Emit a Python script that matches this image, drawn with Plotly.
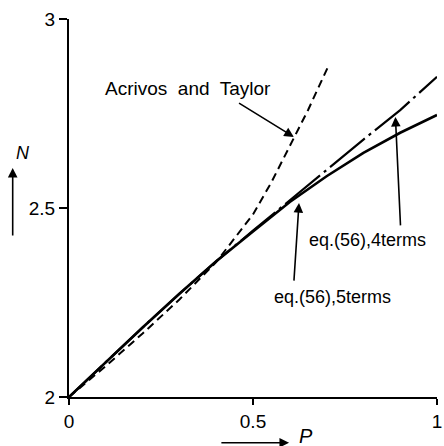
import plotly.graph_objects as go

# ---- data ----
P_5terms = [0.0, 0.1, 0.2, 0.3, 0.4, 0.5, 0.6, 0.7, 0.8, 0.9, 1.0]
N_5terms = [2.0, 2.092, 2.184, 2.273, 2.359, 2.438, 2.516, 2.584, 2.646, 2.699, 2.746]

P_4terms = [0.0, 0.1, 0.2, 0.3, 0.4, 0.5, 0.55, 0.6, 0.7, 0.8, 0.9, 1.0]
N_4terms = [2.0, 2.092, 2.184, 2.273, 2.359, 2.440, 2.480, 2.522, 2.601, 2.681, 2.759, 2.847]

P_acrivos = [0.0, 0.1, 0.2, 0.3, 0.4, 0.5, 0.55, 0.6, 0.65, 0.705]
N_acrivos = [2.0, 2.082, 2.168, 2.258, 2.357, 2.483, 2.568, 2.664, 2.760, 2.876]

x_tickvals = [0, 0.5, 1]
x_ticktext = ["0", "0.5", "1"]
y_tickvals = [2, 2.5, 3]
y_ticktext = ["2", "2.5", "3"]

FONT = "Liberation Sans"

fig = go.Figure()
fig.add_trace(go.Scatter(x=P_4terms, y=N_4terms, mode="lines",
                         line=dict(color="black", width=2.2, dash="45px,5px,3px,5px"),
                         showlegend=False))
fig.add_trace(go.Scatter(x=P_acrivos, y=N_acrivos, mode="lines",
                         line=dict(color="black", width=2, dash="8px,5px"),
                         showlegend=False))
fig.add_trace(go.Scatter(x=P_5terms, y=N_5terms, mode="lines",
                         line=dict(color="black", width=2.6),
                         showlegend=False))

txt = dict(family=FONT, size=18, color="black")
ann = []
# text labels
ann.append(dict(x=0.324, y=2.817, xref="x", yref="y", text="Acrivos  and  Taylor",
                showarrow=False, font=dict(family=FONT, size=19, color="black")))
ann.append(dict(x=0.810, y=2.415, xref="x", yref="y", text="eq.(56),4terms",
                showarrow=False, font=txt))
ann.append(dict(x=0.716, y=2.265, xref="x", yref="y", text="eq.(56),5terms",
                showarrow=False, font=txt))
# pointer arrows
arrow_style = dict(text="", showarrow=True, arrowhead=2, arrowsize=1.2,
                   arrowwidth=1.6, arrowcolor="black")
arrow = dict(xref="x", yref="y", axref="x", ayref="y", **arrow_style)
ann.append(dict(x=0.611, y=2.688, ax=0.458, ay=2.780, **arrow))
ann.append(dict(x=0.887, y=2.741, ax=0.901, ay=2.450, **arrow))
ann.append(dict(x=0.625, y=2.513, ax=0.611, ay=2.304, **arrow))
# axis title arrows (outside the plot area -> axis-domain coordinates)
dom = dict(xref="x domain", yref="y domain", axref="x domain", ayref="y domain",
           **arrow_style)
ann.append(dict(x=-0.153, y=0.606, ax=-0.153, ay=0.423, **dom))
ann.append(dict(x=0.598, y=-0.121, ax=0.410, ay=-0.121, **dom))
# axis titles
ann.append(dict(x=-0.150, y=0.645, xref="x domain", yref="y domain", text="<i>N</i>",
                showarrow=False, font=dict(family=FONT, size=18, color="black")))
ann.append(dict(x=0.668, y=-0.137, xref="x domain", yref="y domain", text="<i>P</i>",
                showarrow=False, font=dict(family=FONT, size=20, color="black")))

fig.update_layout(
    width=444, height=446, autosize=False,
    margin=dict(l=69, r=2, t=19, b=49, pad=0),
    paper_bgcolor="white", plot_bgcolor="white",
    annotations=ann,
    font=dict(family=FONT, color="black"),
)
fig.update_xaxes(range=[0, 1], tickvals=x_tickvals, ticktext=x_ticktext,
                 showgrid=False, zeroline=False, showline=True, linecolor="black",
                 linewidth=2, ticks="outside", ticklen=6, tickwidth=2, tickcolor="black",
                 ticklabeloverflow="allow",
                 tickfont=dict(family=FONT, size=19, color="black"))
fig.update_yaxes(range=[2, 3], tickvals=y_tickvals, ticktext=y_ticktext,
                 showgrid=False, zeroline=False, showline=True, linecolor="black",
                 linewidth=2, ticks="outside", ticklen=8, tickwidth=2, tickcolor="black",
                 ticklabeloverflow="allow",
                 tickfont=dict(family=FONT, size=19, color="black"))

fig.write_html("out.html", config={"displayModeBar": False},
               post_script="document.body.style.margin='0';document.body.style.overflow='hidden';")
